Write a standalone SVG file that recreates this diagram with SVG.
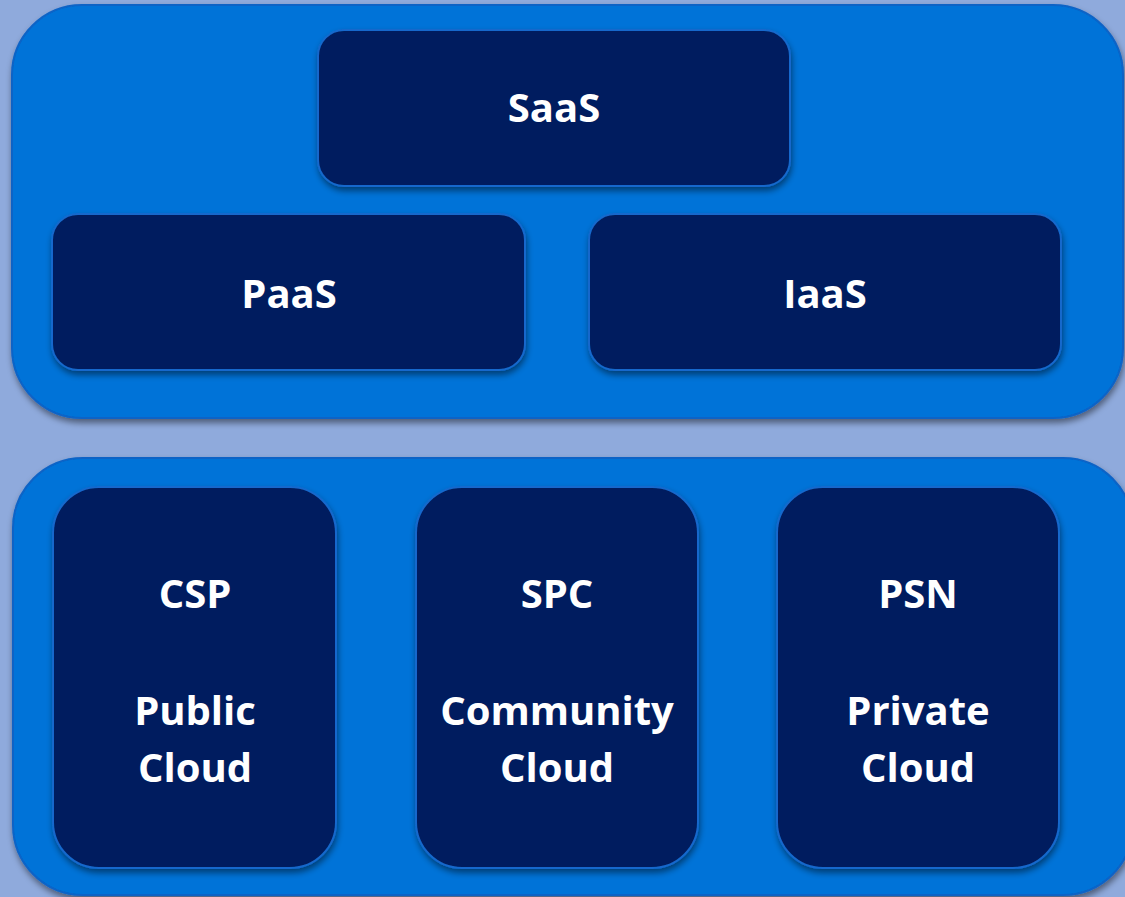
<svg xmlns="http://www.w3.org/2000/svg" width="1125" height="897" viewBox="0 0 1125 897">
  <defs>
    <filter id="shadow" x="-10%" y="-10%" width="120%" height="125%">
      <feDropShadow dx="1" dy="4" stdDeviation="3" flood-color="#000" flood-opacity="0.45"/>
    </filter>
    <style>
      .panel { fill: #0073D8; stroke: #0A63C6; stroke-width: 2; filter: url(#shadow); }
      .box { fill: #001E5E; stroke: #1468CC; stroke-width: 2; filter: url(#shadow); }
      .label { fill: #FFFFFF; font-family: "Open Sans", "Liberation Sans", sans-serif; font-weight: bold; font-size: 40px; text-anchor: middle; }
    </style>
  </defs>

  <!-- page background -->
  <rect x="0" y="0" width="1125" height="897" fill="#8FAADC"/>

  <!-- service-model panel -->
  <g id="panel-services">
    <rect class="panel" x="12" y="5" width="1111" height="413" rx="70" ry="70"/>
  </g>

  <!-- deployment-model panel -->
  <g id="panel-deployment">
    <rect class="panel" x="13" y="458" width="1120" height="437" rx="70" ry="70"/>
  </g>

  <g id="saas">
    <rect class="box" x="318" y="30" width="472" height="156" rx="26" ry="26"/>
    <text class="label" x="554" y="122">SaaS</text>
  </g>

  <g id="paas">
    <rect class="box" x="52" y="214" width="473" height="156" rx="26" ry="26"/>
    <text class="label" x="289" y="308">PaaS</text>
  </g>

  <g id="iaas">
    <rect class="box" x="589" y="214" width="472" height="156" rx="26" ry="26"/>
    <text class="label" x="825" y="308">IaaS</text>
  </g>

  <g id="csp">
    <rect class="box" x="53" y="487" width="283" height="381" rx="46" ry="46"/>
    <text class="label" x="195" y="608">CSP</text>
    <text class="label" x="195" y="725">Public</text>
    <text class="label" x="195" y="782">Cloud</text>
  </g>

  <g id="spc">
    <rect class="box" x="416" y="487" width="282" height="381" rx="46" ry="46"/>
    <text class="label" x="557" y="608">SPC</text>
    <text class="label" x="557" y="725">Community</text>
    <text class="label" x="557" y="782">Cloud</text>
  </g>

  <g id="psn">
    <rect class="box" x="777" y="487" width="282" height="381" rx="46" ry="46"/>
    <text class="label" x="918" y="608">PSN</text>
    <text class="label" x="918" y="725">Private</text>
    <text class="label" x="918" y="782">Cloud</text>
  </g>

  <!-- no connectors in this layout -->
  <g id="connectors"/>
</svg>
